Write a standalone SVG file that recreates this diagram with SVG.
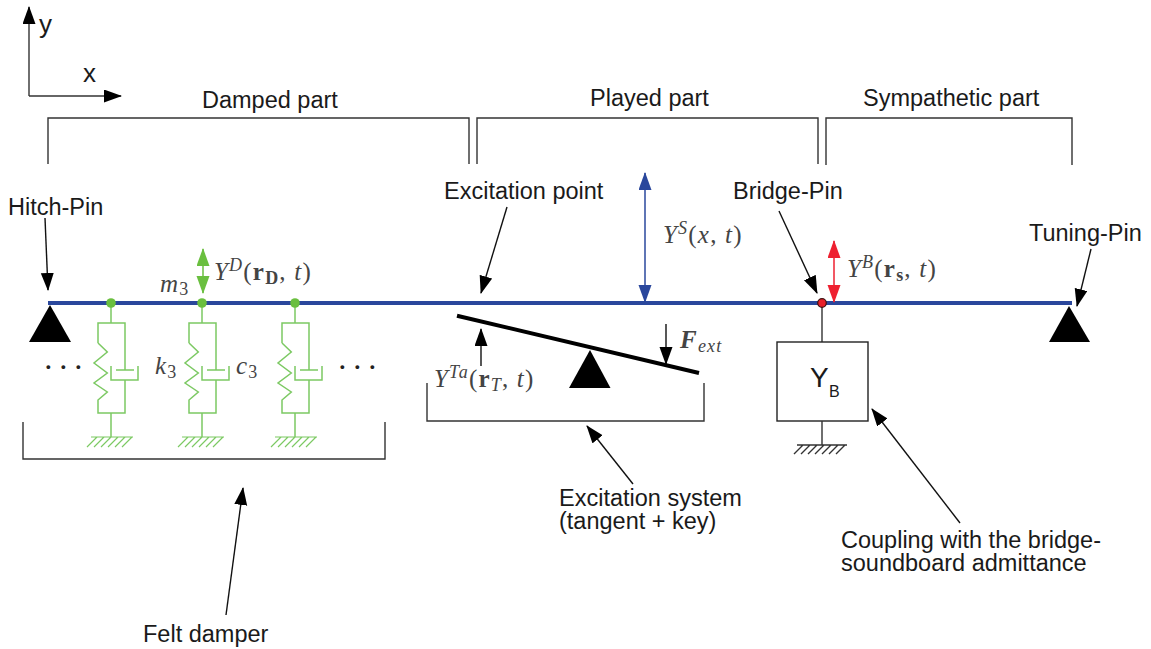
<svg xmlns="http://www.w3.org/2000/svg" xmlns:xlink="http://www.w3.org/1999/xlink" width="1151" height="649" viewBox="0 0 1151 649">
<style>
.t{font-family:"Liberation Sans",Arial,sans-serif;font-size:23.5px;fill:#1a1a1a}
.m{font-family:"Liberation Serif","Times New Roman",serif;font-size:25px;fill:#444;letter-spacing:1.2px}
.d{font-family:"Liberation Serif","Times New Roman",serif;font-size:32px;fill:#222}
.i{font-style:italic}
.b{font-weight:bold}
.s{font-size:18px}
.k{fill:none;stroke:#333;stroke-width:1.4}
.a{fill:none;stroke:#111;stroke-width:1.4}
.g{fill:none;stroke:#7cc963;stroke-width:1.5}
.h{fill:none;stroke:#7cc963;stroke-width:1.2}
.p{fill:#000}
</style>
<defs>
<marker id="ak" markerUnits="userSpaceOnUse" markerWidth="20" markerHeight="14" refX="17" refY="6.5" orient="auto"><path d="M0,0L18,6.5L0,13z" fill="#000"/></marker>
<marker id="ab" markerUnits="userSpaceOnUse" markerWidth="20" markerHeight="14" refX="17" refY="6.5" orient="auto-start-reverse"><path d="M0,0L18,6.5L0,13z" fill="#2a479c"/></marker>
<marker id="ar" markerUnits="userSpaceOnUse" markerWidth="20" markerHeight="14" refX="17" refY="6.5" orient="auto-start-reverse"><path d="M0,0L18,6.5L0,13z" fill="#ee2030"/></marker>
<marker id="ag" markerUnits="userSpaceOnUse" markerWidth="20" markerHeight="14" refX="17" refY="6.5" orient="auto-start-reverse"><path d="M0,0L18,6.5L0,13z" fill="#6abf3f"/></marker>
<g id="sd">
<path class="g" d="M0,303V323M-13,343V323H14V370M5,370H23M-13,343L-3.700,352L-17,363L-3.700,373L-17,383L-3.700,392L-13,400V413H14V380M0,366V380H27V366M0,413V437"/>
<path class="h" d="M-20,437H22M-14,437L-24,447M-7,437L-17,447M0,437L-10,447M7,437L-3,447M14,437L4,447M21,437L11,447"/>
<circle cx="0" cy="303" r="4.800" fill="#6abf3f"/>
</g>
</defs>

<g id="axes">
<path class="k" d="M29,96V7" marker-end="url(#ak)"/>
<path class="k" d="M29,96H121" marker-end="url(#ak)"/>
<text class="t" x="39" y="33" style="font-size:26px">y</text>
<text class="t" x="83" y="82" style="font-size:26px">x</text>
</g>

<g id="string">
<path d="M48,303H1072" fill="none" stroke="#2a479c" stroke-width="4"/>
</g>

<g id="part-brackets">
<path class="k" d="M48,164V118H469V164"/>
<path class="k" d="M477,164V118H818V164"/>
<path class="k" d="M826,165V118H1072V165"/>
<text class="t" x="202" y="108">Damped part</text>
<text class="t" x="590" y="106">Played part</text>
<text class="t" x="863" y="106">Sympathetic part</text>
</g>

<g id="hitch-pin">
<path class="p" d="M50,305L71,342H29z"/>
<text class="t" x="8" y="215">Hitch-Pin</text>
</g>

<g id="tuning-pin">
<path class="p" d="M1069,306L1090,342H1049z"/>
<text class="t" x="1029" y="241">Tuning-Pin</text>
</g>

<g id="damper-1"><use xlink:href="#sd" href="#sd" x="111"/></g>
<g id="damper-2"><use xlink:href="#sd" href="#sd" x="202"/></g>
<g id="damper-3"><use xlink:href="#sd" href="#sd" x="295"/></g>

<g id="felt-damper">
<path class="k" d="M23,422V459H385V422"/>
<text class="d" x="43 58 73" y="378">···</text>
<text class="d" x="337 352 367" y="378">···</text>
<text class="m" x="155" y="374"><tspan class="i">k</tspan><tspan class="s" dy="4">3</tspan></text>
<text class="m" x="236" y="374"><tspan class="i">c</tspan><tspan class="s" dy="4">3</tspan></text>
<text class="m" x="160" y="292"><tspan class="i">m</tspan><tspan class="s" dy="3">3</tspan></text>
<text class="m" x="214" y="280"><tspan class="i">Y</tspan><tspan class="s i" dy="-9">D</tspan><tspan dy="9">(</tspan><tspan class="b">r</tspan><tspan class="s b" dy="4">D</tspan><tspan dy="-4">, </tspan><tspan class="i">t</tspan>)</text>
<text class="t" x="143" y="642">Felt damper</text>
</g>

<g id="excitation-system">
<path d="M457,315.700L699,373" fill="none" stroke="#000" stroke-width="4"/>
<path class="p" d="M590,350L610.500,388H569z"/>
<path class="k" d="M427,383V421H704V383"/>
<text class="m" x="434" y="387"><tspan class="i">Y</tspan><tspan class="s i" dy="-9">Ta</tspan><tspan dy="9">(</tspan><tspan class="b">r</tspan><tspan class="s i" dy="4">T</tspan><tspan dy="-4">, </tspan><tspan class="i">t</tspan>)</text>
<text class="m" x="680" y="348"><tspan class="i b">F</tspan><tspan class="s i" dy="4">ext</tspan></text>
<text class="t" x="559" y="506">Excitation system<tspan x="559" dy="23">(tangent + key)</tspan></text>
</g>

<g id="excitation-point">
<text class="t" x="444" y="199">Excitation point</text>
<text class="m" x="663" y="243"><tspan class="i">Y</tspan><tspan class="s i" dy="-9">S</tspan><tspan dy="9">(</tspan><tspan class="i">x</tspan>, <tspan class="i">t</tspan>)</text>
</g>

<g id="bridge-pin">
<path class="k" d="M822,303V342"/>
<circle cx="822" cy="303" r="4.300" fill="#e8202a" stroke="#401010" stroke-width="1.200"/>
<text class="t" x="733" y="199">Bridge-Pin</text>
<text class="m" x="847" y="277"><tspan class="i">Y</tspan><tspan class="s i" dy="-9">B</tspan><tspan dy="9">(</tspan><tspan class="b">r</tspan><tspan class="s b" dy="4">s</tspan><tspan dy="-4">, </tspan><tspan class="i">t</tspan>)</text>
</g>

<g id="admittance">
<rect x="777" y="342" width="91" height="79" fill="#fff" stroke="#222" stroke-width="1.400"/>
<text class="t" x="810" y="387" style="font-size:28px">Y</text>
<text class="t" x="829" y="397" style="font-size:16px">B</text>
<path class="k" d="M822,421V445M797,445H847M803,445L794,454M810,445L801,454M817,445L808,454M824,445L815,454M831,445L822,454M838,445L829,454M845,445L836,454"/>
<text class="t" x="841" y="548">Coupling with the bridge-<tspan x="841" dy="23">soundboard admittance</tspan></text>
</g>

<g id="connectors">
<path class="a" d="M45,218L48,290" marker-end="url(#ak)"/>
<path class="a" d="M507,207L481,293" marker-end="url(#ak)"/>
<path class="a" d="M779,211L817,293" marker-end="url(#ak)"/>
<path class="a" d="M1091,249L1077,306" marker-end="url(#ak)"/>
<path class="a" d="M481,366V329" marker-end="url(#ak)"/>
<path class="a" d="M666,324V364" marker-end="url(#ak)"/>
<path class="a" d="M633,484L587,426" marker-end="url(#ak)"/>
<path class="a" d="M960,523L872,409" marker-end="url(#ak)"/>
<path class="a" d="M226,615L243,488" marker-end="url(#ak)"/>
<path d="M645,173V302" fill="none" stroke="#2a479c" stroke-width="1.500" marker-start="url(#ab)" marker-end="url(#ab)"/>
<path d="M834,241V302" fill="none" stroke="#ee2030" stroke-width="1.500" marker-start="url(#ar)" marker-end="url(#ar)"/>
<path d="M203,249V293" fill="none" stroke="#6abf3f" stroke-width="1.500" marker-start="url(#ag)" marker-end="url(#ag)"/>
</g>
</svg>
